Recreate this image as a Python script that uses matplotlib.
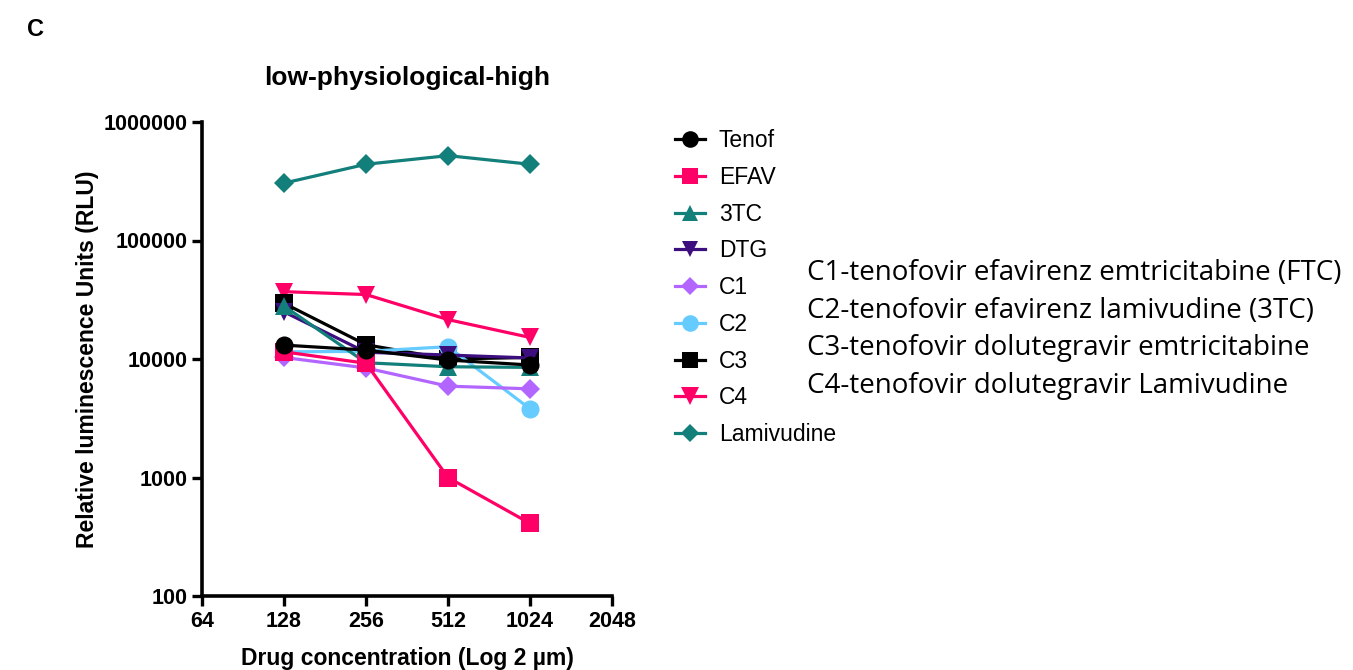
import matplotlib
matplotlib.use("Agg")
import matplotlib.pyplot as plt
from matplotlib.ticker import FixedLocator, FixedFormatter, NullLocator
from matplotlib.lines import Line2D

# Data: drug concentration (µm) and luminescence readings (RLU)
concentration = [128, 256, 512, 1024]

tenof = [13100, 11900, 9800, 8900]
efav = [11500, 9200, 1000, 410]
three_tc = [28000, 9300, 8600, 8500]
dtg = [25000, 11400, 10800, 10200]
c1 = [10300, 8400, 5900, 5600]
c2 = [11500, 11600, 12700, 3800]
c3 = [29500, 13200, 10000, 10300]
c4 = [37000, 35000, 21500, 15200]
lamivudine = [305000, 440000, 520000, 440000]

series_names = ["Tenof", "EFAV", "3TC", "DTG", "C1", "C2", "C3", "C4", "Lamivudine"]
series_values = [tenof, efav, three_tc, dtg, c1, c2, c3, c4, lamivudine]

x_ticks = [64, 128, 256, 512, 1024, 2048]
y_ticks = [100, 1000, 10000, 100000, 1000000]

combo_notes = [
    "C1-tenofovir efavirenz emtricitabine (FTC)",
    "C2-tenofovir efavirenz lamivudine (3TC)",
    "C3-tenofovir dolutegravir emtricitabine",
    "C4-tenofovir dolutegravir Lamivudine",
]

PINK = "#FF0066"
TEAL = "#127F7B"
INDIGO = "#3D0E7E"
LILAC = "#B266FF"
SKY = "#66CCFF"

styles = [
    dict(color="black", marker="o", ms=13),
    dict(color=PINK, marker="s", ms=12.5),
    dict(color=TEAL, marker="^", ms=13),
    dict(color=INDIGO, marker="v", ms=13),
    dict(color=LILAC, marker="D", ms=10),
    dict(color=SKY, marker="o", ms=13),
    dict(color="black", marker="s", ms=12.5),
    dict(color=PINK, marker="v", ms=13.5),
    dict(color=TEAL, marker="D", ms=10.5),
]

plt.rcParams["font.family"] = ["Liberation Sans", "DejaVu Sans"]

fig = plt.figure(figsize=(13.53, 6.70), dpi=100)
W, H = 1353, 670
ax = fig.add_axes([202 / W, 1 - 596 / H, (612 - 202) / W, (596 - 122) / H])

n = len(series_names)
for i, (name, vals, st) in enumerate(zip(series_names, series_values, styles)):
    ax.plot(concentration, vals, color=st["color"], marker=st["marker"],
            markersize=st["ms"], linewidth=2.3, markeredgewidth=0,
            label=name, zorder=10 + (n - i), clip_on=False)

ax.set_xscale("log", base=2)
ax.set_yscale("log")
ax.set_xlim(64, 2048)
ax.set_ylim(100, 1000000)

ax.xaxis.set_major_locator(FixedLocator(x_ticks))
ax.xaxis.set_major_formatter(FixedFormatter([str(t) for t in x_ticks]))
ax.xaxis.set_minor_locator(NullLocator())
ax.yaxis.set_major_locator(FixedLocator(y_ticks))
ax.yaxis.set_major_formatter(FixedFormatter([str(t) for t in y_ticks]))
ax.yaxis.set_minor_locator(NullLocator())

for side in ("top", "right"):
    ax.spines[side].set_visible(False)
for side in ("left", "bottom"):
    ax.spines[side].set_linewidth(2.6)
    ax.spines[side].set_capstyle("projecting")

ax.tick_params(axis="both", which="major", length=7.5, width=2.4,
               direction="out", pad=3)
for lab in ax.get_xticklabels() + ax.get_yticklabels():
    lab.set_fontsize(15.5)
    lab.set_fontweight("bold")

ax.set_title("low-physiological-high", fontsize=19, fontweight="bold", pad=27)
ax.set_xlabel("Drug concentration (Log 2 µm)", fontsize=16.5, fontweight="bold",
              labelpad=11)
ax.set_ylabel("Relative luminescence Units (RLU)", fontsize=16.5,
              fontweight="bold", labelpad=3)

handles = [Line2D([], [], color=st["color"], marker=st["marker"],
                  markersize=st["ms"] * 0.92, linewidth=2.3, markeredgewidth=0)
           for st in styles]
fig.legend(handles, series_names, loc="upper left",
           bbox_to_anchor=(666 / W, 1 - 120 / H), frameon=False,
           fontsize=16.5, handlelength=1.3, handletextpad=0.6,
           labelspacing=0.6, borderaxespad=0)

for k, note in enumerate(combo_notes):
    fig.text(807 / W, 1 - (273 + 37.7 * k) / H, note, fontsize=20,
             family=["Open Sans", "DejaVu Sans"], ha="left", va="center")

fig.text(35 / W, 1 - 30 / H, "C", fontsize=17, fontweight="bold",
         ha="center", va="center")

fig.savefig("out.png", dpi=100)
